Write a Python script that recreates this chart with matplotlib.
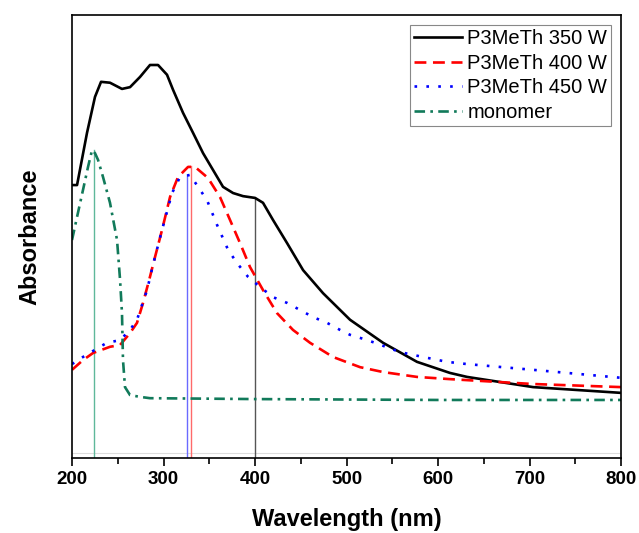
import matplotlib.pyplot as plt
from matplotlib.ticker import MultipleLocator

plt.rcParams['font.family'] = ['Liberation Sans', 'DejaVu Sans']

# P3MeTh 350 W
wl_350 = [200, 205.5, 216.4, 225.1, 231.7, 241.5, 254.6, 263.4, 274.3, 285.2, 294, 303.8,
          310.4, 321.3, 332.2, 343.2, 354.1, 365, 376, 386.9, 400, 408.7, 419.7, 435,
          452.5, 474.3, 503.8, 539.9, 577, 613, 631.7, 703.8, 800]
abs_350 = [0.616, 0.616, 0.734, 0.815, 0.849, 0.847, 0.833, 0.837, 0.860, 0.887, 0.887,
           0.865, 0.831, 0.779, 0.734, 0.688, 0.650, 0.612, 0.598, 0.591, 0.587, 0.576,
           0.537, 0.485, 0.424, 0.372, 0.312, 0.260, 0.217, 0.192, 0.183, 0.160, 0.147]

# P3MeTh 400 W
wl_400 = [200, 212, 223, 241.5, 252.5, 263.4, 271, 277.6, 285.2, 288.5, 298.4, 307.1,
          315.8, 326.8, 334.4, 348.6, 361.7, 372.7, 383.6, 394.5, 408.7, 424, 441.5,
          460.1, 485.2, 514.8, 539.9, 577, 613.1, 703.8, 800]
abs_400 = [0.199, 0.221, 0.237, 0.251, 0.255, 0.282, 0.305, 0.350, 0.409, 0.436, 0.515,
           0.589, 0.634, 0.657, 0.657, 0.632, 0.589, 0.537, 0.485, 0.431, 0.379, 0.327,
           0.289, 0.260, 0.228, 0.205, 0.194, 0.183, 0.178, 0.167, 0.160]

# P3MeTh 450 W
wl_450 = [200, 212, 225, 238, 252.5, 263.4, 271, 282, 288.5, 298.4, 309.3, 318, 329,
          337.7, 347.5, 358.5, 370.5, 380.3, 392.3, 405.5, 419.7, 435, 449.2, 463.4,
          478.7, 492.9, 503.8, 518, 531.1, 558.5, 583.6, 609.8, 631.7, 703.8, 800]
abs_450 = [0.212, 0.228, 0.244, 0.260, 0.266, 0.289, 0.312, 0.379, 0.436, 0.515, 0.598,
           0.634, 0.639, 0.612, 0.582, 0.526, 0.470, 0.440, 0.409, 0.386, 0.363, 0.350,
           0.334, 0.318, 0.305, 0.289, 0.278, 0.269, 0.260, 0.239, 0.228, 0.217, 0.212,
           0.199, 0.181]

# monomer
wl_mono = [200, 205.5, 212, 217.5, 221.9, 225.1, 228.4, 233.9, 241.5, 249.2, 252.5,
           254.6, 255.7, 257.9, 263.4, 274.3, 285.2, 400, 600, 800]
abs_mono = [0.492, 0.544, 0.605, 0.657, 0.695, 0.688, 0.673, 0.634, 0.576, 0.492, 0.402,
            0.327, 0.221, 0.160, 0.142, 0.138, 0.135, 0.133, 0.131, 0.131]

# peak markers (wavelength, absorbance at peak)
peak_wl = [224, 325.5, 330, 400]
peak_abs = [0.695, 0.639, 0.660, 0.587]
peak_colors = ['#5fb89a', '#6a6aff', '#ff6a6a', '#555555']

fig, ax = plt.subplots(figsize=(6.39, 5.33), dpi=100)
fig.subplots_adjust(left=0.1127, right=0.972, top=0.972, bottom=0.1407)

ax.axhline(0.012, color='#dddddd', lw=0.8, zorder=0)
for w, a, c in zip(peak_wl, peak_abs, peak_colors):
    ax.plot([w, w], [0.0, a], color=c, lw=1.0, zorder=1)

ax.plot(wl_350, abs_350, color='black', lw=1.9, label='P3MeTh 350 W')
ax.plot(wl_400, abs_400, color='red', lw=1.9, ls=(0, (4.5, 2.5)), label='P3MeTh 400 W')
ax.plot(wl_450, abs_450, color='blue', lw=1.9, ls=(0, (1, 3.5)), label='P3MeTh 450 W')
ax.plot(wl_mono, abs_mono, color='#117a5a', lw=1.9, ls=(0, (4, 2, 1, 2)), label='monomer')

ax.set_xlim(200, 800)
ax.set_ylim(0, 1)
ax.xaxis.set_major_locator(MultipleLocator(100))
ax.xaxis.set_minor_locator(MultipleLocator(50))
ax.tick_params(axis='x', which='major', direction='out', length=6, width=1.2, labelsize=13.5)
ax.tick_params(axis='x', which='minor', direction='out', length=4, width=1.2)
ax.set_yticks([])
for lbl in ax.get_xticklabels():
    lbl.set_fontweight('bold')
for s in ax.spines.values():
    s.set_linewidth(1.2)

ax.set_xlabel('Wavelength (nm)', fontsize=17, fontweight='bold', labelpad=14)
ax.set_ylabel('Absorbance', fontsize=17, fontweight='bold', labelpad=22)

leg = ax.legend(loc='upper right', bbox_to_anchor=(0.982, 0.977), borderaxespad=0,
                fontsize=14.5, handlelength=2.4, handletextpad=0.25, borderpad=0.2,
                labelspacing=0.28, fancybox=False, edgecolor='#888888', framealpha=1)
leg.get_frame().set_linewidth(0.8)

plt.savefig('out.png', dpi=100)
